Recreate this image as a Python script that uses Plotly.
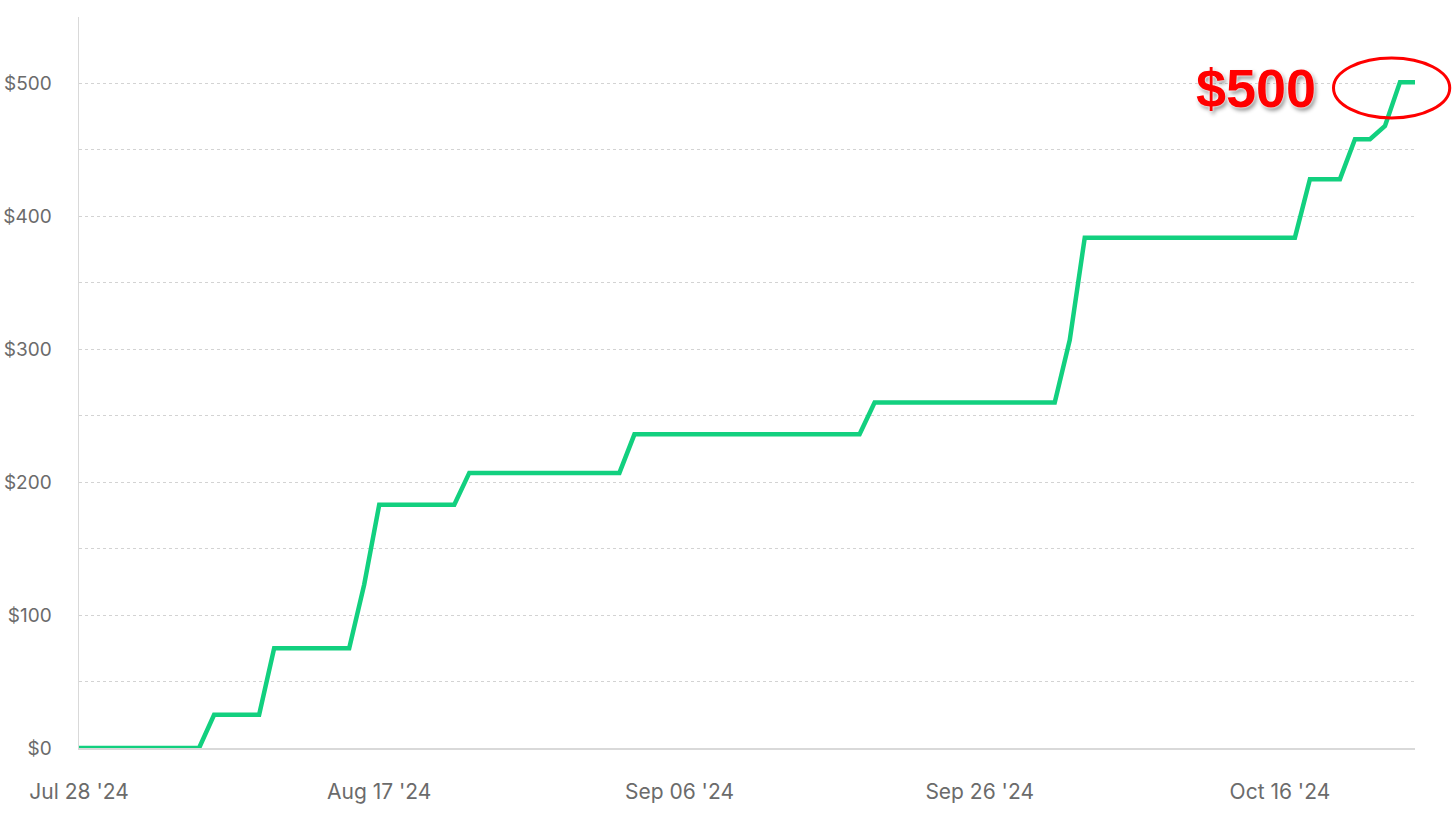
import plotly.graph_objects as go

# Data: cumulative earnings (vertices of the daily series)
dates = ["2024-07-28", "2024-08-05", "2024-08-06", "2024-08-09", "2024-08-10",
         "2024-08-15", "2024-08-16", "2024-08-17", "2024-08-22", "2024-08-23",
         "2024-09-02", "2024-09-03", "2024-09-18", "2024-09-19", "2024-10-01",
         "2024-10-02", "2024-10-03", "2024-10-17", "2024-10-18", "2024-10-20",
         "2024-10-21", "2024-10-22", "2024-10-23", "2024-10-24", "2024-10-25"]
values = [0, 0, 25, 25, 75,
          75, 123, 183, 183, 207,
          207, 236, 236, 260, 260,
          307, 384, 384, 428, 428,
          458, 458, 468, 501, 501]

x_tick_vals = ["2024-07-28", "2024-08-17", "2024-09-06", "2024-09-26", "2024-10-16"]
x_tick_text = ["Jul 28 '24", "Aug 17 '24", "Sep 06 '24", "Sep 26 '24", "Oct 16 '24"]
y_tick_vals = [0, 50, 100, 150, 200, 250, 300, 350, 400, 450, 500, 550]
y_tick_text = ["$0", "", "$100", "", "$200", "", "$300", "", "$400", "", "$500", ""]

fig = go.Figure()
fig.add_trace(go.Scatter(
    x=dates, y=values, mode="lines",
    line=dict(color="#12d07f", width=4.5),
    hoverinfo="skip", showlegend=False,
))

fig.update_layout(
    width=1456, height=814,
    margin=dict(l=79, r=41, t=17, b=66, autoexpand=False),
    paper_bgcolor="white", plot_bgcolor="white",
    font=dict(family="Inter, Noto Sans, sans-serif", size=20, color="#6b6b6b"),
    xaxis=dict(
        type="date", automargin=False,
        range=["2024-07-28", "2024-10-25"],
        tickvals=x_tick_vals, ticktext=x_tick_text,
        tickfont=dict(size=21),
        showgrid=False, zeroline=False,
        showline=True, linecolor="#d9d9d9", linewidth=1.5,
        ticks="", ticklabelstandoff=24,
    ),
    yaxis=dict(
        automargin=False,
        range=[0, 550],
        tickvals=y_tick_vals, ticktext=y_tick_text,
        tickfont=dict(size=19),
        showgrid=True, gridcolor="#d3d3d3", gridwidth=1, griddash="dot",
        zeroline=False,
        showline=True, linecolor="#d9d9d9", linewidth=1.5,
        ticks="", ticklabelstandoff=22,
    ),
    shapes=[dict(
        type="circle", xref="paper", yref="paper",
        x0=0.939, x1=1.026, y0=0.862, y1=0.944,
        line=dict(color="#ff0000", width=3),
    )],
    annotations=[dict(
        xref="paper", yref="paper", x=0.881, y=0.903,
        xanchor="center", yanchor="middle", showarrow=False,
        text="<b>$500</b>",
        font=dict(family="Liberation Sans, Arial, sans-serif", size=54, color="#ff0000",
                  shadow="0 0 2px white, 0 0 3px white, 2px 3px 4px rgba(0,0,0,0.45)"),
    )],
)

fig.write_html("out.html",
               config={"displayModeBar": False, "staticPlot": True},
               post_script="document.body.style.margin='0';document.body.style.overflow='hidden';")
